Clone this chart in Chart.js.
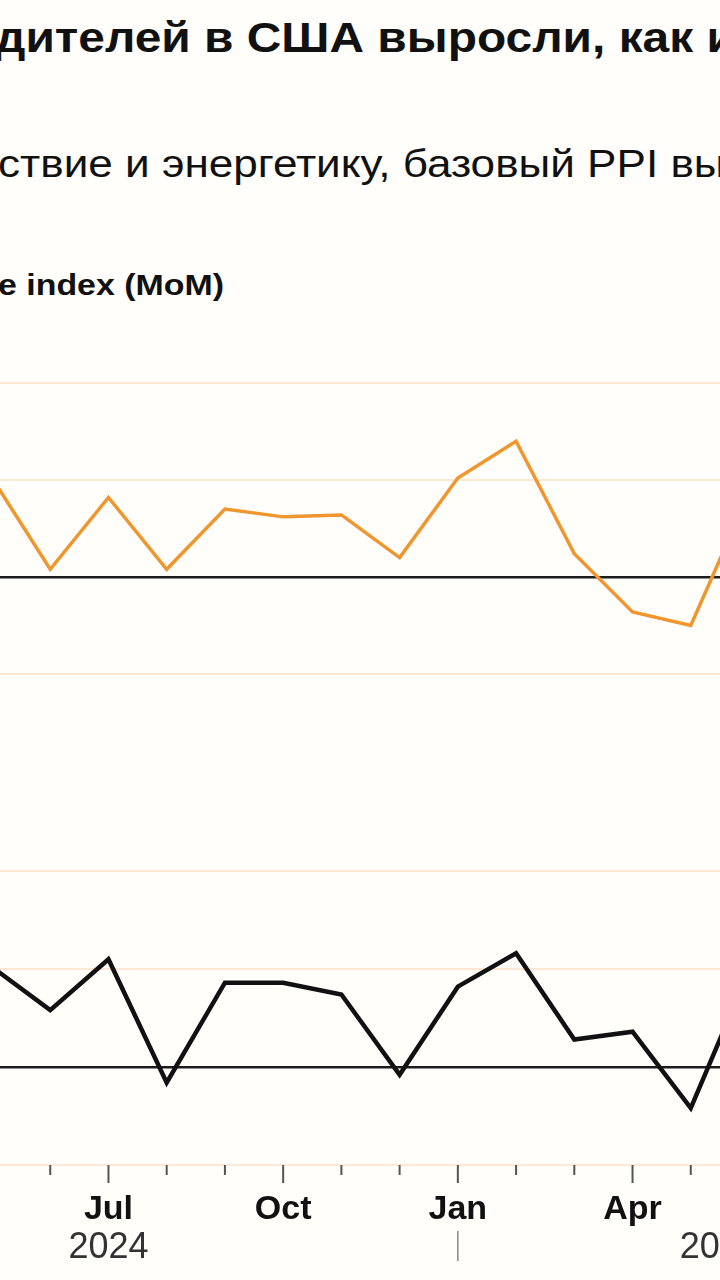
<!DOCTYPE html>
<html lang="ru">
<head>
<meta charset="UTF-8">
<title>PPI США</title>
<script src="https://cdn.jsdelivr.net/npm/chart.js"></script>
<style>
  body { margin:0; width:720px; height:1280px; overflow:hidden; background:#fffefb; position:relative; font-family:"Liberation Sans", Arial, sans-serif; color:#111; }
  .txt { position:absolute; white-space:nowrap; line-height:1; transform-origin:left top; }
  #title { left:-5px; top:17px; font-size:42px; font-weight:bold; transform:scaleX(1.14); }
  #subtitle { left:-2px; top:145px; font-size:38px; transform:scaleX(1.16); }
  #label { left:-2px; top:270px; font-size:30px; font-weight:bold; transform:scaleX(1.13); }
  .box { position:absolute; left:-8px; width:757px; }
  #box1 { top:373px; height:311px; }
  #box2 { top:861px; height:418px; }
</style>
</head>
<body>
<div class="txt" id="title">дителей в США выросли, как и</div>
<div class="txt" id="subtitle">ствие и энергетику, базовый PPI вы</div>
<div class="txt" id="label">e index (MoM)</div>

<div class="box" id="box1"><canvas id="headline"></canvas></div>
<div class="box" id="box2"><canvas id="core"></canvas></div>

<script>
// May 2024 .. Jun 2025
const months = ['May','Jun','Jul','Aug','Sep','Oct','Nov','Dec','Jan','Feb','Mar','Apr','May','Jun'];
const tickLabels = ['', '', 'Jul', '', '', 'Oct', '', '', 'Jan', '', '', 'Apr', '', ''];
const headlinePPI = [0.51, 0.04, 0.41, 0.04, 0.35, 0.31, 0.32, 0.10, 0.51, 0.70, 0.12, -0.18, -0.25, 0.43];
const corePPI = [0.51, 0.29, 0.55, -0.08, 0.43, 0.43, 0.37, -0.04, 0.41, 0.58, 0.14, 0.18, -0.21, 0.49];
const yearLabels = ['2024', '2025'];
const yearPos = [2, 12.5];
const yearBreak = 8;

const font = 'Liberation Sans';

function yScale() {
  return {
    min: -0.5, max: 1.0,
    ticks: { display: false, stepSize: 0.5 },
    border: { display: false },
    grid: {
      drawTicks: false,
      color: c => c.tick.value === 0 ? '#1c1c1c' : '#fde8d5',
      lineWidth: c => c.tick.value === 0 ? 2.5 : 2
    }
  };
}

// tick marks, year row and year divider under the bottom panel
const axisDecor = {
  id: 'axisDecor',
  afterDraw(chart) {
    const ctx = chart.ctx;
    const x = chart.scales.x;
    const bottom = chart.chartArea.bottom;
    ctx.save();
    ctx.strokeStyle = '#555';
    ctx.lineWidth = 2;
    months.forEach((m, i) => {
      const px = x.getPixelForValue(i);
      ctx.beginPath();
      ctx.moveTo(px, bottom);
      ctx.lineTo(px, bottom + (tickLabels[i] ? 18 : 10));
      ctx.stroke();
    });
    ctx.fillStyle = '#333';
    ctx.font = '36px "' + font + '"';
    ctx.textAlign = 'center';
    ctx.textBaseline = 'alphabetic';
    yearLabels.forEach((y, i) => ctx.fillText(y, x.getPixelForValue(yearPos[i]), bottom + 93));
    const bx = x.getPixelForValue(yearBreak);
    ctx.strokeStyle = '#888';
    ctx.lineWidth = 1.5;
    ctx.beginPath();
    ctx.moveTo(bx, bottom + 66);
    ctx.lineTo(bx, bottom + 96);
    ctx.stroke();
    ctx.restore();
  }
};

new Chart(document.getElementById('headline'), {
  type: 'line',
  data: {
    labels: months,
    datasets: [{ data: headlinePPI, borderColor: '#f0962e', borderWidth: 3.5, pointRadius: 0, tension: 0 }]
  },
  options: {
    responsive: true, maintainAspectRatio: false, animation: false,
    layout: { padding: { top: 10, bottom: 10, left: 0, right: 0 } },
    plugins: { legend: { display: false }, tooltip: { enabled: false } },
    scales: { x: { display: false, offset: false }, y: yScale() }
  }
});

new Chart(document.getElementById('core'), {
  type: 'line',
  data: {
    labels: months,
    datasets: [{ data: corePPI, borderColor: '#111', borderWidth: 4.5, pointRadius: 0, tension: 0 }]
  },
  options: {
    responsive: true, maintainAspectRatio: false, animation: false,
    layout: { padding: { top: 10, bottom: 52, left: 0, right: 0 } },
    plugins: { legend: { display: false }, tooltip: { enabled: false } },
    scales: {
      x: {
        offset: false,
        border: { display: false },
        grid: { display: false },
        afterFit: s => { s.height = 62; s.paddingLeft = 0; s.paddingRight = 0; },
        ticks: {
          autoSkip: false, maxRotation: 0, padding: 16,
          color: '#111',
          font: { family: font, size: 34, weight: 'bold' },
          callback: (v, i) => tickLabels[i]
        }
      },
      y: yScale()
    }
  },
  plugins: [axisDecor]
});
</script>
</body>
</html>
